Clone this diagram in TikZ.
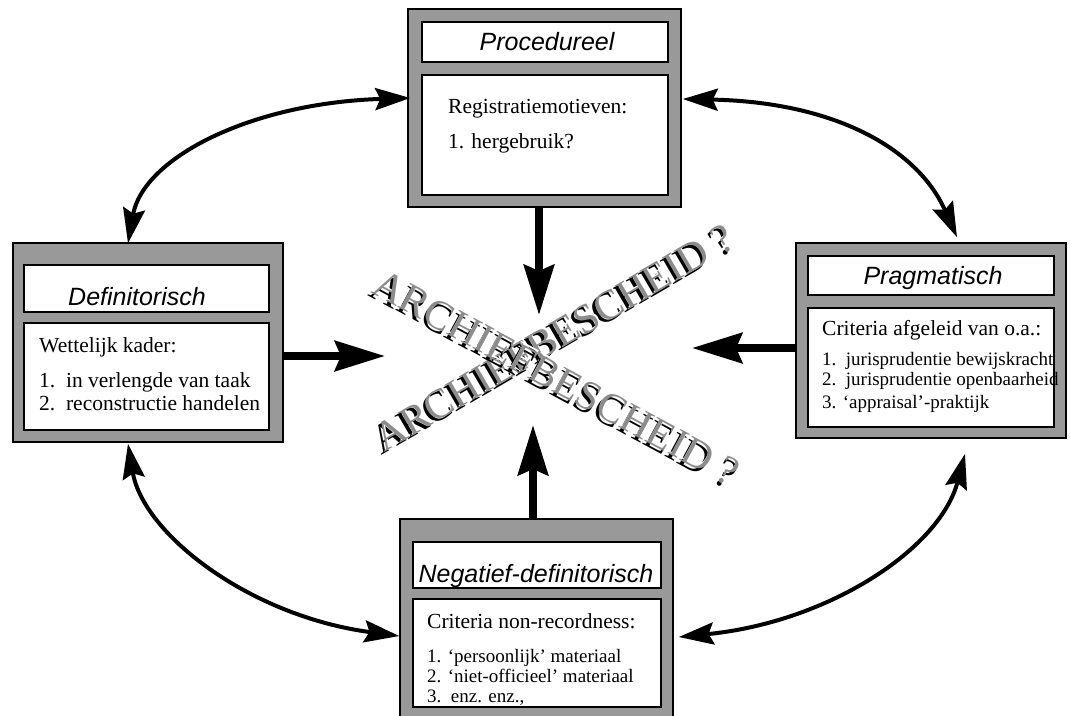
\documentclass[tikz,border=0pt]{standalone}
\usepackage{fontspec}
\setmainfont{Liberation Serif}
\newfontfamily\hv{Liberation Sans}
\usetikzlibrary{arrows.meta,calc}
\definecolor{boxgray}{gray}{0.6}
\definecolor{txtgray}{gray}{0.55}
\begin{document}
\begin{tikzpicture}[x=1pt,y=-1pt,
  outerbox/.style={draw=black, line width=1.5pt, fill=boxgray, inner sep=0pt},
  innerbox/.style={draw=black, line width=2pt, fill=white, inner sep=0pt},
  title/.style={anchor=base, inner sep=0pt, font=\hv\itshape\fontsize{25}{30}\selectfont},
  body/.style={anchor=base west, inner sep=0pt, font=\fontsize{21.5}{24}\selectfont},
  item/.style={anchor=base west, inner sep=0pt, font=\fontsize{19}{22}\selectfont},
  bigarrow/.style={line width=8pt, -{Stealth[length=50pt,width=30pt,inset=6pt]}},
  curvearrow/.style={line width=4pt, {Stealth[length=35pt,width=22pt,inset=5pt]}-{Stealth[length=35pt,width=22pt,inset=5pt]}},
  bigtxt/.style={anchor=base west, inner sep=0pt, font=\fontsize{41.5}{42}\selectfont}]
\useasboundingbox (0,0) rectangle (1070,715);

% Procedureel
\node[outerbox, minimum width=273pt, minimum height=198pt] (P) at (544.5,108) {};
\node[innerbox, minimum width=246pt, minimum height=40pt] (Pt) at (545,42) {};
\node[innerbox, minimum width=246pt, minimum height=120pt] (Pc) at (545,135) {};
\node[title] (PT) at (547,50) {Procedureel};
\node[body] (P1) at (448,113) {Registratiemotieven:};
\node[body] (P2) at (448,148) {1. hergebruik?};

% Definitorisch
\node[outerbox, minimum width=270pt, minimum height=199pt] (D) at (148,342.5) {};
\node[innerbox, minimum width=245pt, minimum height=47pt] (Dt) at (146.5,288.5) {};
\node[innerbox, minimum width=245pt, minimum height=107pt] (Dc) at (146.5,376.5) {};
\node[title] (DT) at (137,305) {Definitorisch};
\node[body] (D1) at (39,352) {Wettelijk kader:};
\node[body] (D2) at (39,387) {1.\ \ in verlengde van taak};
\node[body] (D3) at (39,410) {2.\ \ reconstructie handelen};

% Pragmatisch
\node[outerbox, minimum width=270pt, minimum height=195pt] (R) at (931,340.5) {};
\node[innerbox, minimum width=246pt, minimum height=39pt] (Rt) at (931,275.5) {};
\node[innerbox, minimum width=246pt, minimum height=119pt] (Rc) at (931,367.5) {};
\node[title] (RT) at (933,284) {Pragmatisch};
\node[body] (R1) at (822,335) {Criteria afgeleid van o.a.:};
\node[item] (R2) at (822,365) {1.\ \ jurisprudentie bewijskracht};
\node[item] (R3) at (822,385) {2.\ \ jurisprudentie openbaarheid};
\node[item] (R4) at (822,408) {3. ‘appraisal’-praktijk};

% Negatief-definitorisch
\node[outerbox, minimum width=273pt, minimum height=206pt] (N) at (536.5,622) {};
\node[innerbox, minimum width=248pt, minimum height=46pt] (Nt) at (537,565) {};
\node[innerbox, minimum width=248pt, minimum height=108pt] (Nc) at (537,653) {};
\node[title] (NT) at (536,582) {Negatief-definitorisch};
\node[body] (N1) at (427,628) {Criteria non-recordness:};
\node[item] (N2) at (427,662) {1. ‘persoonlijk’ materiaal};
\node[item] (N3) at (427,682) {2. ‘niet-officieel’ materiaal};
\node[item] (N4) at (427,702) {3.\ \ enz. enz.,};

% central text
\node[bigtxt, rotate=30.3, text=black] (A1s) at (381.5,455.5) {ARCHIEFBESCHEID ?};
\node[bigtxt, rotate=30.3, text=white] (A1h) at (385,451) {ARCHIEFBESCHEID ?};
\node[bigtxt, rotate=30.3, text=txtgray] (A1) at (384,452.5) {ARCHIEFBESCHEID ?};
\node[bigtxt, rotate=-28.4, text=black] (A2s) at (367.5,295.5) {ARCHIEFBESCHEID ?};
\node[bigtxt, rotate=-28.4, text=white] (A2h) at (371,291) {ARCHIEFBESCHEID ?};
\node[bigtxt, rotate=-28.4, text=txtgray] (A2) at (370,292.5) {ARCHIEFBESCHEID ?};

% straight arrows
\coordinate (tipP) at (539,315);
\coordinate (tipD) at (385,356);
\coordinate (tipR) at (692,348);
\coordinate (tipN) at (533,425);
\draw[bigarrow] (P.south -| tipP) -- (tipP);
\draw[bigarrow] (D.east |- tipD) -- (tipD);
\draw[bigarrow] (R.west |- tipR) -- (tipR);
\draw[bigarrow] (N.north -| tipN) -- (tipN);

% curved arrows
\draw[curvearrow] ($(D.north)+(-20,1)$) .. controls +(15,-85) and +(-160,5) .. ($(P.west)+(3,-10)$);
\draw[curvearrow] ($(P.east)+(1,-9)$) .. controls +(150,3) and +(-40,-90) .. ($(R.north)+(26,-5)$);
\draw[curvearrow] ($(D.south)+(-20,1)$) .. controls +(15,90) and +(-150,-20) .. ($(N.west)+(0,14)$);
\draw[curvearrow] ($(N.east)+(5,15)$) .. controls +(150,-15) and +(-25,95) .. ($(R.south)+(34,15)$);
\end{tikzpicture}
\end{document}
